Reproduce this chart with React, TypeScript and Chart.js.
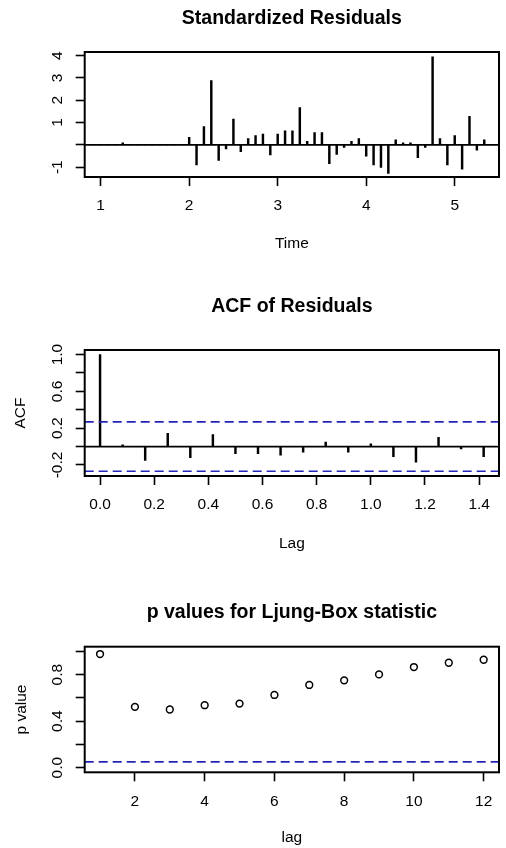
import React, { useEffect, useRef } from 'react';
import { Chart, registerables } from 'chart.js';

Chart.register(...registerables);

// ---------- data ----------
const tsStart = 1;
const tsFrequency = 12;
const stdResiduals = [
  0, 0, 0, 0.09, 0, 0, 0, 0, 0, 0, 0, 0,
  0.34, -0.9, 0.82, 2.88, -0.7, -0.18, 1.15, -0.3, 0.28, 0.42, 0.48, -0.45,
  0.48, 0.63, 0.63, 1.67, 0.16, 0.55, 0.55, -0.84, -0.43, -0.12, 0.16, 0.28,
  -0.51, -0.9, -1.01, -1.28, 0.22, 0.09, 0.09, -0.57, -0.12, 3.94, 0.28, -0.9,
  0.42, -1.09, 1.28, -0.24, 0.22,
];
const acfValues = [
  1.0, 0.02, -0.15, 0.145, -0.12, 0.13, -0.076, -0.076, -0.094,
  -0.06, 0.05, -0.06, 0.03, -0.11, -0.17, 0.1, -0.025, -0.11,
];
const acfLimit = 0.269;
const ljungLags = [1, 2, 3, 4, 5, 6, 7, 8, 9, 10, 11, 12];
const ljungPValues = [0.977, 0.523, 0.5, 0.537, 0.551, 0.625, 0.711, 0.751, 0.802, 0.865, 0.902, 0.928];
const pValueRef = 0.05;

const residTicksY = [-1, 0, 1, 2, 3, 4];
const residLabelsY = [-1, 1, 2, 3, 4];
const acfLabelsY = [-0.2, 0.2, 0.6, 1.0];
const pLabelsY = [0.0, 0.4, 0.8];

const titles = ['Standardized Residuals', 'ACF of Residuals', 'p values for Ljung-Box statistic'];
const xTitles = ['Time', 'Lag', 'lag'];
const yTitles = ['', 'ACF', 'p value'];

// ---------- styling ----------
const FONT = '"Liberation Sans", Arial, Helvetica, sans-serif';
const BLUE = '#2424b8';
const W = 506;
const TICK_LEN = 9;
const LW = 1.8;

function makeTextPlugin(cfg: any) {
  return {
    id: 'rtext',
    afterDraw(chart: any) {
      const { ctx, chartArea: a, scales } = chart;
      ctx.save();
      ctx.fillStyle = '#000';
      ctx.textAlign = 'center';
      ctx.textBaseline = 'alphabetic';
      ctx.font = `bold 19.5px ${FONT}`;
      ctx.fillText(cfg.title, (a.left + a.right) / 2, cfg.titleY);
      ctx.font = `15.5px ${FONT}`;
      ctx.textBaseline = 'middle';
      ctx.fillText(cfg.xTitle, (a.left + a.right) / 2, cfg.xTitleY);
      if (cfg.yTitle) {
        ctx.save();
        ctx.translate(cfg.yTitleX, (a.top + a.bottom) / 2);
        ctx.rotate(-Math.PI / 2);
        ctx.fillText(cfg.yTitle, 0, 0);
        ctx.restore();
      }
      for (const v of cfg.yLabels) {
        const y = scales.y.getPixelForValue(v);
        ctx.save();
        ctx.translate(57.5, y);
        ctx.rotate(-Math.PI / 2);
        ctx.fillText(cfg.fmtY(v), 0, 0);
        ctx.restore();
      }
      ctx.lineWidth = 2;
      ctx.strokeStyle = '#000';
      ctx.strokeRect(a.left, a.top, a.right - a.left, a.bottom - a.top);
      ctx.restore();
    },
  };
}

function baseScales(xMin: number, xMax: number, xStep: number, xFmt: (v: number) => string,
  yMin: number, yMax: number, yStep: number, xPad: number) {
  return {
    x: {
      type: 'linear',
      min: xMin,
      max: xMax,
      offset: false,
      afterFit: (s: any) => { s.height = 40; },
      border: { display: false },
      grid: { offset: false, drawOnChartArea: false, drawTicks: true, tickLength: TICK_LEN, tickWidth: 1.6, tickColor: '#000' },
      ticks: {
        stepSize: xStep,
        includeBounds: false,
        autoSkip: false,
        maxRotation: 0,
        padding: xPad,
        color: '#000',
        font: { family: FONT, size: 15.5 },
        callback: (v: any) => xFmt(Number(v)),
      },
    },
    y: {
      type: 'linear',
      min: yMin,
      max: yMax,
      afterFit: (s: any) => { s.width = 84.7; },
      border: { display: false },
      grid: { drawOnChartArea: false, drawTicks: true, tickLength: TICK_LEN, tickWidth: 1.6, tickColor: '#000' },
      ticks: { stepSize: yStep, includeBounds: false, display: false },
    },
  };
}

function hline(xMin: number, xMax: number, y: number, color: string, dash: number[]) {
  return {
    type: 'line',
    data: [{ x: xMin, y }, { x: xMax, y }],
    borderColor: color,
    borderWidth: dash.length ? 1.6 : LW,
    borderDash: dash,
    pointRadius: 0,
    fill: false,
  };
}

const common = {
  responsive: false,
  animation: false,
  devicePixelRatio: 1,
  plugins: { legend: { display: false }, tooltip: { enabled: false }, title: { display: false } },
};

function buildResiduals(canvas: HTMLCanvasElement) {
  const times = stdResiduals.map((_, i) => tsStart + i / tsFrequency);
  const xMin = 0.82, xMax = 5.5;
  return new Chart(canvas, {
    type: 'bar',
    data: {
      datasets: [
        hline(xMin, xMax, 0, '#000', []) as any,
        {
          type: 'bar',
          data: times.map((t, i) => ({ x: t, y: stdResiduals[i] })),
          backgroundColor: '#000',
          borderWidth: 0,
          barThickness: LW,
          grouped: false,
        },
      ],
    },
    options: {
      ...common,
      layout: { padding: { left: 0, right: 7, top: 52, bottom: 66 } },
      scales: baseScales(xMin, xMax, 1, (v) => String(v), -1.44, 4.16, 1, 10.8) as any,
    } as any,
    plugins: [makeTextPlugin({
      title: titles[0], titleY: 24, xTitle: xTitles[0], xTitleY: 243.3,
      yTitle: yTitles[0], yTitleX: 21, yLabels: residLabelsY, fmtY: (v: number) => String(v),
    })],
  });
}

function buildAcf(canvas: HTMLCanvasElement) {
  const lags = acfValues.map((_, i) => i / tsFrequency);
  const xMin = -0.0567, xMax = 1.4733;
  return new Chart(canvas, {
    type: 'bar',
    data: {
      datasets: [
        hline(xMin, xMax, 0, '#000', []) as any,
        hline(xMin, xMax, acfLimit, BLUE, [9, 5]) as any,
        hline(xMin, xMax, -acfLimit, BLUE, [9, 5]) as any,
        {
          type: 'bar',
          data: lags.map((l, i) => ({ x: l, y: acfValues[i] })),
          backgroundColor: '#000',
          borderWidth: 0,
          barThickness: LW,
          grouped: false,
        },
      ],
    },
    options: {
      ...common,
      layout: { padding: { left: 0, right: 7, top: 67, bottom: 50 } },
      scales: baseScales(xMin, xMax, 0.2, (v) => v.toFixed(1), -0.32, 1.05, 0.2, 10.8) as any,
    } as any,
    plugins: [makeTextPlugin({
      title: titles[1], titleY: 29.3, xTitle: xTitles[1], xTitleY: 260.3,
      yTitle: yTitles[1], yTitleX: 21, yLabels: acfLabelsY, fmtY: (v: number) => v.toFixed(1),
    })],
  });
}

function buildLjung(canvas: HTMLCanvasElement) {
  const xMin = 0.56, xMax = 12.44;
  return new Chart(canvas, {
    type: 'scatter',
    data: {
      datasets: [
        hline(xMin, xMax, pValueRef, BLUE, [9, 5]) as any,
        {
          type: 'scatter',
          data: ljungLags.map((l, i) => ({ x: l, y: ljungPValues[i] })),
          pointRadius: 3.4,
          pointBorderWidth: 1.5,
          pointBackgroundColor: 'rgba(0,0,0,0)',
          pointBorderColor: '#000',
          showLine: false,
        },
      ],
    },
    options: {
      ...common,
      layout: { padding: { left: 0, right: 7, top: 80.7, bottom: 35.7 } },
      scales: baseScales(xMin, xMax, 2, (v) => String(v), -0.04, 1.04, 0.2, 10.8) as any,
    } as any,
    plugins: [makeTextPlugin({
      title: titles[2], titleY: 51.7, xTitle: xTitles[2], xTitleY: 272,
      yTitle: yTitles[2], yTitleX: 21.5, yLabels: pLabelsY, fmtY: (v: number) => v.toFixed(1),
    })],
  });
}

export default function App() {
  const r1 = useRef<HTMLCanvasElement>(null);
  const r2 = useRef<HTMLCanvasElement>(null);
  const r3 = useRef<HTMLCanvasElement>(null);

  useEffect(() => {
    document.body.style.margin = '0';
    const charts = [
      buildResiduals(r1.current as HTMLCanvasElement),
      buildAcf(r2.current as HTMLCanvasElement),
      buildLjung(r3.current as HTMLCanvasElement),
    ];
    return () => charts.forEach((c) => c.destroy());
  }, []);

  return (
    <div style={{ position: 'absolute', left: 0, top: 0, width: W, height: 848, background: '#fff' }}>
      <canvas ref={r1} width={W} height={283} style={{ display: 'block' }} />
      <canvas ref={r2} width={W} height={283} style={{ display: 'block' }} />
      <canvas ref={r3} width={W} height={282} style={{ display: 'block' }} />
    </div>
  );
}
